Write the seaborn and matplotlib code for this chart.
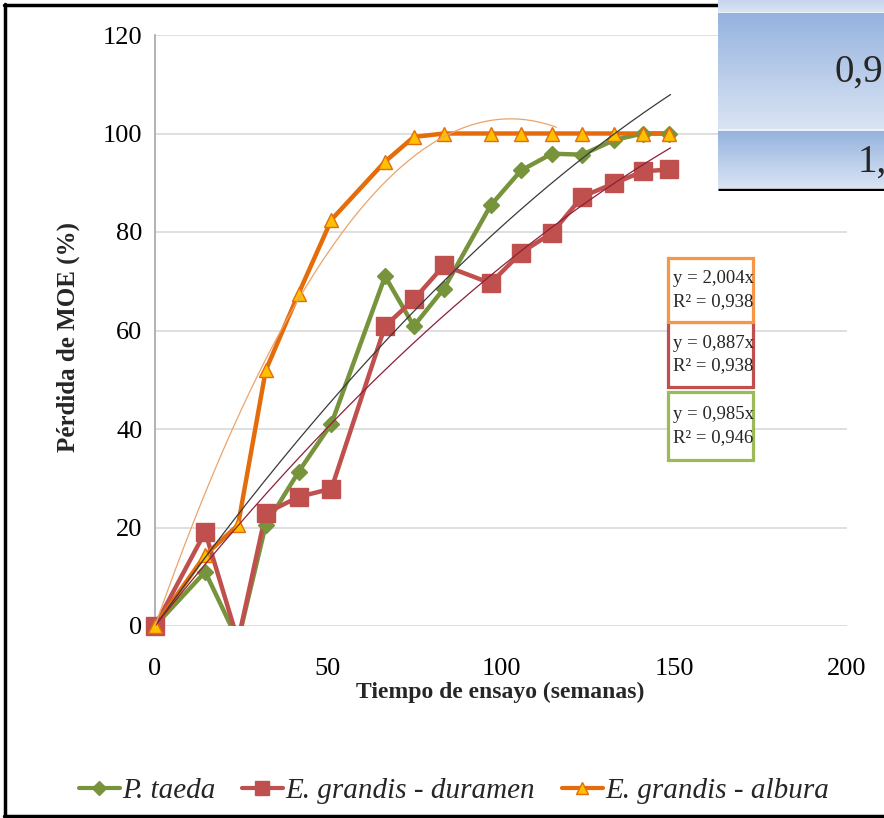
import numpy as np
import pandas as pd
import matplotlib
matplotlib.use("Agg")
import matplotlib.pyplot as plt
from matplotlib.patches import Rectangle
from matplotlib.lines import Line2D
from matplotlib.colors import LinearSegmentedColormap
import seaborn as sns

# ---------------- data ----------------
weeks = [0, 14.5, 24, 32, 41.5, 51, 66.5, 74.8, 83.5, 97, 105.8, 114.7, 123.5, 132.8, 141, 148.6]
p_taeda = [0, 11, -3, 20.5, 31.3, 41.1, 71, 60.9, 68.5, 85.4, 92.5, 95.9, 95.7, 98.7, 100, 100]
e_duramen = [0, 19.1, -3, 22.9, 26.2, 27.9, 60.9, 66.3, 73.2, 69.6, 75.8, 79.8, 87.2, 89.9, 92.3, 92.7]
e_albura = [0, 14.4, 20.5, 51.9, 67.5, 82.5, 94.3, 99.3, 100, 100, 100, 100, 100, 100, 100, 100]

series_names = ["P. taeda", "E. grandis - duramen", "E. grandis - albura"]
# polynomial trendlines through origin: y = a*x + b*x^2
trend_a = [0.985, 0.887, 2.004]
trend_b = [-0.00175, -0.00158, -0.00975]
trend_xmax = [149, 149, 116]
eq_labels = ["y = 0,985x", "y = 0,887x", "y = 2,004x"]
r2_labels = ["0,946", "0,938", "0,938"]

x_ticks = [0, 50, 100, 150, 200]
y_ticks = [0, 20, 40, 60, 80, 100, 120]
table_values = ["0,9", "1,4"]

# ---------------- style ----------------
sns.set_theme(style="white")
plt.rcParams['font.family'] = ['Liberation Serif', 'DejaVu Serif']

GREEN = "#77933C"
RED = "#C0504D"
ORANGE = "#E46C0A"
colors = [GREEN, RED, ORANGE]
markers = ["D", "s", "^"]
msizes = [8, 12.5, 10.5]
mfaces = [GREEN, RED, "#FFC000"]
trend_colors = ["#3A3A3A", "#8B2038", "#EBA46A"]
box_colors = ["#9BBB59", "#C0504D", "#F79646"]
# boxes in pixel coords (x0, y0, x1, y1)
boxes = [(668, 392, 753, 460), (668, 322, 753, 387), (668, 258, 753, 322)]

W, H = 884, 818
def fx(px):
    return px / W
def fy(py):
    return 1 - py / H

fig = plt.figure(figsize=(W / 100, H / 100), dpi=100)
fig.patch.set_facecolor("white")
AX_L, AX_R, AX_T, AX_B = 155, 847, 35, 626
ax = fig.add_axes([fx(AX_L), fy(AX_B), (AX_R - AX_L) / W, (AX_B - AX_T) / H])

df = pd.DataFrame({
    "Semanas": weeks * 3,
    "Perdida": p_taeda + e_duramen + e_albura,
    "Serie": np.repeat(series_names, len(weeks)),
})

for i, name in enumerate(series_names):
    sub = df[df["Serie"] == name]
    # connecting line (clipped to the plot area, like Excel)
    sns.lineplot(data=sub, x="Semanas", y="Perdida", ax=ax, sort=False, estimator=None,
                 color=colors[i], lw=3.2, legend=False, zorder=3)
    # markers of the visible points (not clipped at the axis edge)
    vis = sub[sub["Perdida"] >= 0]
    ax.plot(vis["Semanas"], vis["Perdida"], linestyle="none", marker=markers[i],
            markersize=msizes[i], markerfacecolor=mfaces[i], markeredgecolor=colors[i],
            markeredgewidth=1, zorder=3.5, clip_on=False)

for i in range(3):
    xs = np.linspace(0, trend_xmax[i], 300)
    ys = trend_a[i] * xs + trend_b[i] * xs ** 2
    sns.lineplot(x=xs, y=ys, ax=ax, color=trend_colors[i], lw=0.9, legend=False,
                 zorder=4, estimator=None, sort=False)

ax.set_xlim(0, 200)
ax.set_ylim(0, 120)
ax.set_xticks(x_ticks)
ax.set_yticks(y_ticks)
ax.set_xlabel("")
ax.set_ylabel("")
ax.grid(axis="y", color="#D9D9D9", lw=1.2)
ax.grid(axis="x", visible=False)
ax.set_axisbelow(True)
for s in ["top", "right", "bottom"]:
    ax.spines[s].set_visible(False)
ax.spines["left"].set_color("#A6A6A6")
ax.spines["left"].set_linewidth(1.2)
ax.tick_params(axis="both", length=0, labelsize=19, colors="black")
ax.tick_params(axis="y", pad=9)
ax.tick_params(axis="x", pad=23)

fig.text(fx(500), fy(692), "Tiempo de ensayo (semanas)", ha="center", va="center",
         fontsize=17, fontweight="bold")
fig.text(fx(68), fy(337), "Pérdida de MOE (%)", ha="center", va="center",
         rotation=90, fontsize=18, fontweight="bold")

# legend
handles = [Line2D([], [], color=colors[i], lw=3, marker=markers[i],
                  markersize=[7, 10, 9][i], markerfacecolor=mfaces[i],
                  markeredgecolor=colors[i]) for i in range(3)]
fig.legend(handles, series_names, loc="center", bbox_to_anchor=(fx(454), fy(791)),
           ncol=3, frameon=False, prop=dict(style="italic", size=21),
           handlelength=1.4, handletextpad=0.1, columnspacing=0.9)

# equation boxes
for i in range(3):
    x0, y0, x1, y1 = boxes[i]
    fig.add_artist(Rectangle((fx(x0), fy(y1)), (x1 - x0) / W, (y1 - y0) / H,
                             transform=fig.transFigure, facecolor="white",
                             edgecolor=box_colors[i], lw=2.3, zorder=5))
    fig.text(fx(x0 + 5), fy((y0 + y1) / 2), f"{eq_labels[i]}\nR² = {r2_labels[i]}",
             ha="left", va="center", fontsize=13.5, linespacing=1.4, zorder=6)

# table overlay (top-right)
T_BOT = 191
tax = fig.add_axes([fx(718), fy(T_BOT), (884 - 718) / W, T_BOT / H], zorder=10)
tax.set_axis_off()
tax.add_patch(Rectangle((0, 0), 166, T_BOT, facecolor="#EEF2F8", edgecolor="none", zorder=1))
cmap = LinearSegmentedColormap.from_list("blu", ["#95B3DF", "#DAE4F3"])
grad = np.linspace(0, 1, 200).reshape(-1, 1)
tax.imshow(np.linspace(0.7, 1, 50).reshape(-1, 1), extent=(0, 166, 12, 0),
           aspect="auto", cmap=cmap, vmin=0, vmax=1, zorder=2)
tax.imshow(grad, extent=(0, 166, 129.5, 14), aspect="auto", cmap=cmap, vmin=0, vmax=1, zorder=2)
tax.imshow(grad, extent=(0, 166, 188, 131.5), aspect="auto", cmap=cmap, vmin=0, vmax=1, zorder=2)
tax.set_xlim(0, 166)
tax.set_ylim(T_BOT, 0)
tax.plot([0, 166], [189.5, 189.5], color="black", lw=2.5, solid_capstyle="butt", zorder=3)
tax.text(834 - 718, 72, table_values[0], fontsize=28, ha="left", va="center", clip_on=False, zorder=4)
tax.text(858 - 718, 162, table_values[1], fontsize=28, ha="left", va="center", clip_on=False, zorder=4)

# outer frame
fig.add_artist(Line2D([fx(5), fx(5)], [fy(4), fy(818)], transform=fig.transFigure,
                      color="black", lw=2.5))
fig.add_artist(Line2D([fx(4), fx(718)], [fy(5), fy(5)], transform=fig.transFigure,
                      color="black", lw=2.5))
fig.add_artist(Line2D([fx(4), 1], [fy(815.5), fy(815.5)], transform=fig.transFigure,
                      color="black", lw=2.5))

fig.savefig("out.png", dpi=100)
